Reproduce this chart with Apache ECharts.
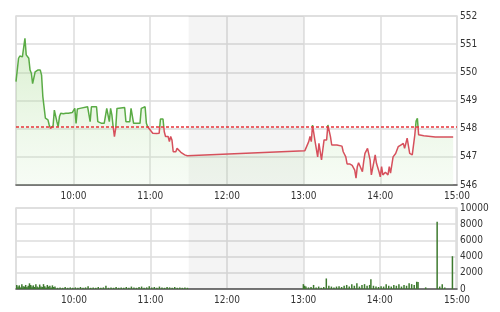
<!DOCTYPE html>
<html>
<head>
<meta charset="utf-8">
<script src="https://cdn.jsdelivr.net/npm/echarts@6/dist/echarts.min.js"></script>
<style>
html,body{margin:0;padding:0;background:#fff;}
#chart{width:500px;height:312px;}
</style>
</head>
<body>
<div id="chart"></div>
<script>
// ---- Data ----
var referencePrice = 548.06;

var priceTimes = [
  "09:15","09:17","09:18","09:20","09:22","09:23","09:25","09:26","09:27","09:28","09:29","09:30","09:32","09:34","09:35","09:36","09:38","09:40","09:41","09:42","09:43","09:44","09:45","09:46","09:47","09:48","09:49","09:50","09:52","09:54","09:56","09:59",
  "10:01","10:02","10:03","10:05","10:11","10:13","10:14","10:18","10:19","10:22","10:24","10:26","10:27","10:28","10:29","10:30","10:31","10:32","10:33","10:34","10:35","10:40","10:41","10:44","10:45","10:46","10:47","10:50","10:51","10:52","10:53","10:56","10:57","10:58","10:59",
  "11:02","11:05","11:07","11:08","11:10","11:11","11:12","11:14","11:15","11:16","11:17","11:18","11:20","11:21","11:22","11:24","11:27","11:29",
  "13:01","13:02","13:04","13:05","13:06","13:07","13:08","13:09","13:11","13:12","13:13","13:14","13:16","13:18","13:19","13:20","13:21","13:22","13:26","13:27","13:30","13:31","13:33","13:34","13:36","13:38","13:40","13:41","13:42","13:43","13:44","13:46","13:47","13:48","13:50","13:51","13:52","13:53","13:55","13:56","13:57","13:59",
  "14:00","14:01","14:02","14:04","14:05","14:06","14:07","14:08","14:09","14:10","14:12","14:14","14:15","14:16","14:18","14:19","14:21","14:22","14:23","14:25","14:27","14:28","14:29","14:30","14:34","14:43","14:57"
];
var priceValues = [
  549.67,550.50,550.58,550.55,551.21,550.62,550.50,550.08,549.97,549.60,549.60,550.02,550.08,550.08,549.90,549.14,548.37,548.31,548.13,548.01,548.01,548.10,548.66,548.66,548.25,548.07,548.43,548.55,548.53,548.55,548.55,548.57,
  548.72,548.19,548.70,548.72,548.78,548.25,548.78,548.78,548.25,548.19,548.19,548.72,548.72,548.25,548.72,548.49,548.07,547.72,548.01,548.72,548.75,548.75,548.25,548.25,548.72,548.72,548.19,548.19,548.25,548.19,548.72,548.78,548.19,548.07,548.00,
  547.84,547.83,547.84,548.34,548.34,547.89,547.72,547.72,547.54,547.72,547.60,547.18,547.18,547.30,547.25,547.16,547.07,547.04,
  547.22,547.22,547.54,547.72,547.54,548.13,548.13,547.54,547.00,547.48,547.45,546.89,547.60,547.60,548.13,548.13,547.72,547.42,547.42,547.36,547.38,547.18,547.00,546.75,546.75,546.70,546.53,546.24,546.65,546.79,546.85,546.47,546.83,547.12,547.30,547.30,546.89,546.36,546.83,547.07,546.77,546.47,
  546.29,546.65,546.36,546.45,546.42,546.36,546.65,546.42,546.36,547.00,547.12,547.36,547.30,547.42,547.48,547.30,547.66,547.72,547.12,547.07,547.78,548.27,548.37,547.78,547.75,547.70,547.70
];

var volumeTimes = [
  "09:15","09:16","09:17","09:18","09:19","09:20","09:21","09:22","09:23","09:24","09:25","09:26","09:27","09:28","09:29","09:30","09:31","09:32","09:33","09:34","09:35","09:36","09:37","09:38","09:39","09:40","09:41","09:42","09:43","09:44","09:45","09:47","09:49","09:51","09:53","09:55","09:57","09:59",
  "10:01","10:03","10:05","10:07","10:09","10:11","10:13","10:15","10:17","10:19","10:21","10:23","10:25","10:27","10:29","10:31","10:33","10:35","10:37","10:39","10:41","10:43","10:45","10:47","10:49","10:51","10:53","10:55","10:57","10:59",
  "11:01","11:03","11:05","11:07","11:09","11:11","11:13","11:15","11:17","11:19","11:21","11:23","11:25","11:27","11:29",
  "13:00","13:01","13:02","13:04","13:06","13:08","13:10","13:12","13:14","13:16","13:18","13:20","13:22","13:24","13:26","13:28","13:30","13:32","13:34","13:36","13:38","13:40","13:42","13:44","13:46","13:48","13:50","13:52","13:53","13:55","13:57","13:59",
  "14:01","14:03","14:05","14:07","14:09","14:11","14:13","14:15","14:17","14:19","14:21","14:23","14:25","14:27","14:29","14:30","14:36","14:45","14:47","14:49","14:51","14:57"
];
var volumeValues = [
  500,300,450,200,600,350,300,500,250,400,700,500,300,450,250,600,300,200,550,300,250,600,350,200,500,300,400,200,450,250,300,150,200,150,250,150,200,150,
  200,150,250,150,200,350,150,200,150,250,150,200,400,150,200,150,250,150,200,150,250,150,300,200,150,250,300,150,200,350,
  200,250,150,300,200,150,250,200,150,250,150,200,150,200,150,
  600,400,300,200,250,500,200,300,150,250,1300,400,300,200,300,350,250,400,500,300,600,400,700,300,500,600,400,500,1200,400,300,250,
  350,300,600,400,300,500,400,600,300,500,400,700,600,500,900,850,200,8300,300,600,200,4050
];

var dayStart = "09:15";
var dayEnd = "15:00";
var lunchStart = "11:30";
var lunchEnd = "13:00";

// ---- helpers ----
function ts(hm){
  var p = hm.split(":");
  return new Date(2020, 0, 2, +p[0], +p[1]).getTime();
}
var priceData = priceTimes.map(function(t,i){ return [ts(t), priceValues[i]]; });
var volumeData = volumeTimes.map(function(t,i){ return [ts(t), volumeValues[i]]; });

var FONT = "'Liberation Sans Narrow','DejaVu Sans Condensed','Liberation Sans',Arial,sans-serif";
var GREEN = '#5aab45';
var RED = '#d6505c';

function xAxisCfg(idx){
  return {
    type: 'time', gridIndex: idx,
    min: ts(dayStart), max: ts(dayEnd),
    minInterval: 3600000, maxInterval: 3600000,
    axisLine: {show: true, lineStyle: {color: '#555', width: 1.5}},
    axisTick: {show: false},
    splitLine: {show: true, lineStyle: {color: '#dddddd', width: 1.5}},
    axisLabel: {
      formatter: '{HH}:{mm}', color: '#333', fontSize: 10, fontFamily: FONT,
      margin: 6, showMinLabel: false, showMaxLabel: true, hideOverlap: false
    }
  };
}
function plainNum(v){ return String(v); }

var chart = echarts.init(document.getElementById('chart'), null, {renderer: 'canvas'});
var option = {
  animation: false,
  backgroundColor: '#fff',
  grid: [
    {left: 16, right: 43, top: 16, height: 169, show: true, borderColor: '#dddddd', borderWidth: 1.5, backgroundColor: 'transparent'},
    {left: 16, right: 43, top: 208, height: 81, show: true, borderColor: '#dddddd', borderWidth: 1.5, backgroundColor: 'transparent'}
  ],
  xAxis: [xAxisCfg(0), xAxisCfg(1)],
  yAxis: [
    {
      type: 'value', gridIndex: 0, position: 'right', min: 546, max: 552, interval: 1,
      axisLine: {show: false}, axisTick: {show: false},
      splitLine: {lineStyle: {color: '#dddddd', width: 1.5}},
      axisLabel: {color: '#333', fontSize: 10, fontFamily: FONT, margin: 3, formatter: plainNum}
    },
    {
      type: 'value', gridIndex: 1, position: 'right', min: 0, max: 10000, interval: 2000,
      axisLine: {show: false}, axisTick: {show: false},
      splitLine: {lineStyle: {color: '#dddddd', width: 1.5}},
      axisLabel: {color: '#333', fontSize: 10, fontFamily: FONT, margin: 3, formatter: plainNum}
    }
  ],
  series: [
    {
      type: 'line', xAxisIndex: 0, yAxisIndex: 0, data: priceData,
      showSymbol: false, symbol: 'none',
      lineStyle: {width: 1.5, color: GREEN},
      areaStyle: {
        origin: 'start',
        color: new echarts.graphic.LinearGradient(0, 30, 0, 185, [
          {offset: 0, color: 'rgba(150,210,120,0.55)'},
          {offset: 1, color: 'rgba(200,235,190,0.22)'}
        ], true)
      },
      markArea: {
        silent: true,
        itemStyle: {color: 'rgba(0,0,0,0.045)'},
        data: [[{xAxis: ts(lunchStart)}, {xAxis: ts(lunchEnd)}]]
      },
      markLine: {
        silent: true, symbol: 'none', label: {show: false},
        lineStyle: {color: '#e8333a', type: [3, 2], width: 1.5},
        data: [{yAxis: referencePrice}]
      }
    },
    {
      type: 'bar', xAxisIndex: 1, yAxisIndex: 1, data: volumeData,
      barWidth: 1.5, itemStyle: {color: '#3d7a2e'},
      markArea: {
        silent: true,
        itemStyle: {color: 'rgba(0,0,0,0.045)'},
        data: [[{xAxis: ts(lunchStart)}, {xAxis: ts(lunchEnd)}]]
      }
    }
  ]
};
chart.setOption(option);

// colour the price line green above / red below the reference level
var refY = chart.convertToPixel({yAxisIndex: 0}, referencePrice);
var H = chart.getHeight();
var stop = refY / H;
chart.setOption({
  series: [{
    lineStyle: {
      width: 1.5,
      color: new echarts.graphic.LinearGradient(0, 0, 0, H, [
        {offset: 0, color: GREEN},
        {offset: stop, color: GREEN},
        {offset: stop, color: RED},
        {offset: 1, color: RED}
      ], true)
    }
  }]
});
</script>
</body>
</html>
